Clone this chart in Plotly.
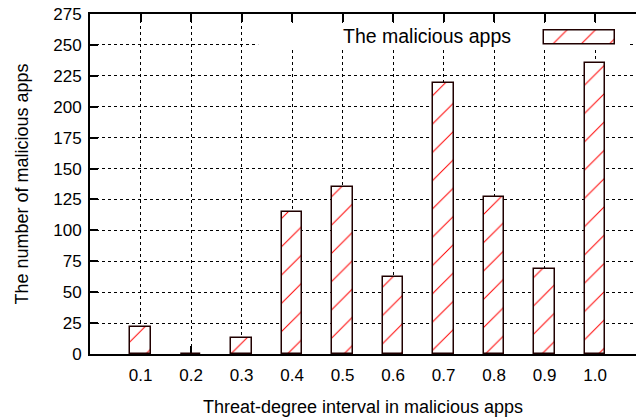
import plotly.graph_objects as go

categories = ["0.1", "0.2", "0.3", "0.4", "0.5", "0.6", "0.7", "0.8", "0.9", "1.0"]
counts = [22, 0, 13, 115, 135, 62, 219, 127, 69, 235]
series_name = "The malicious apps"
y_ticks = list(range(0, 276, 25))

FONT = "Liberation Sans, Arial, Helvetica, sans-serif"
pattern = dict(shape="/", fgcolor="#ff0000", fgopacity=1, bgcolor="white", size=20, solidity=0.05)
outline = dict(color="#200000", width=1.5)

fig = go.Figure()
fig.add_trace(go.Bar(
    x=categories, y=counts, width=0.4, name=series_name,
    marker=dict(color="white", pattern=pattern, line=outline),
    showlegend=False,
))
# legend key swatch on its own small axes
fig.add_trace(go.Bar(
    x=["key"], y=[1], width=1, xaxis="x2", yaxis="y2", showlegend=False,
    marker=dict(color="white", pattern=pattern, line=outline),
))

fig.update_layout(
    width=636, height=418,
    margin=dict(l=90, r=0, t=14, b=64),
    plot_bgcolor="white", paper_bgcolor="white",
    font=dict(family=FONT, size=17, color="black"),
    xaxis=dict(
        type="category", categoryorder="array", categoryarray=categories,
        range=[-1, 9.81], showgrid=True, gridcolor="black", griddash="dot", gridwidth=1,
        showline=True, linecolor="black", linewidth=2, mirror="ticks",
        ticks="inside", ticklen=8, tickwidth=2, tickcolor="black",
        ticklabelstandoff=5,
        layer="below traces",
        title=dict(text="Threat-degree interval in malicious apps", font=dict(size=18), standoff=16),
        zeroline=False, automargin=False,
    ),
    yaxis=dict(
        range=[0, 275], tickvals=y_ticks, showgrid=True, gridcolor="black", griddash="dot", gridwidth=1,
        showline=True, linecolor="black", linewidth=2, mirror=False,
        ticks="inside", ticklen=8, tickwidth=2, tickcolor="black",
        ticklabelstandoff=3,
        title=dict(text="The number of malicious apps", font=dict(size=18), standoff=20),
        zeroline=False, automargin=False,
    ),
    xaxis2=dict(domain=[0.8242, 0.9688], anchor="y2", range=[-0.55, 0.55], visible=False, fixedrange=True),
    yaxis2=dict(domain=[0.905, 0.957], anchor="x2", range=[-0.15, 1.15], visible=False, fixedrange=True),
    shapes=[dict(type="rect", xref="x", yref="y", x0=2.33, x1=9.65, y0=246, y1=267.7,
                 fillcolor="white", line=dict(width=0), layer="between")],
    annotations=[dict(text=series_name, xref="paper", yref="paper", x=0.7747, y=0.935,
                      xanchor="right", yanchor="middle", showarrow=False, font=dict(size=19.5))],
    showlegend=False,
    bargap=0,
)

fig.write_html("out.html", config={"displayModeBar": False},
               post_script="document.body.style.margin='0';document.body.style.overflow='hidden';")
